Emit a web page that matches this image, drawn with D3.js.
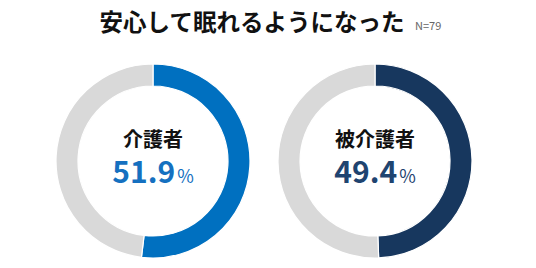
<!DOCTYPE html>
<html><head><meta charset="utf-8">
<script src="https://cdn.jsdelivr.net/npm/d3@7"></script>
<style>html,body{margin:0;padding:0;background:#fff}</style>
</head><body><svg id="c" width="536" height="268"></svg>
<script>
const title = "安心して眠れるようになった";
const nLabel = "N=79";
const groups = ["介護者", "被介護者"];
const values = [51.9, 49.4];
const colors = ["#0070C0", "#17375E"];
const textColors = ["#1570C0", "#1F4470"];
const rest = "#D9D9D9";

const svg = d3.select("#c");
const font = "'Noto Sans CJK JP','Noto Sans',sans-serif";

svg.append("text").attr("x", 252).attr("y", 31).attr("text-anchor", "middle")
  .attr("font-family", font).attr("font-weight", 700).attr("font-size", 23.5)
  .attr("fill", "#111").text(title);
svg.append("text").attr("x", 415).attr("y", 30)
  .attr("font-family", font).attr("font-size", 11).attr("fill", "#666").text(nLabel);

const cx = d3.scalePoint().domain(groups).range([153, 375]);
const outerR = 97, innerR = 75;
const pie = d3.pie().sort(null).value(d => d);
const arc = d3.arc().innerRadius(innerR).outerRadius(outerR);

groups.forEach((g, i) => {
  const gg = svg.append("g").attr("transform", `translate(${cx(g)},161)`);
  const arcs = pie([values[i], 100 - values[i]]);
  gg.selectAll("path").data(arcs).join("path")
    .attr("d", arc)
    .attr("fill", (d, j) => j === 0 ? colors[i] : rest)
    .attr("stroke", "#fff").attr("stroke-width", 1.2);
  gg.append("text").attr("y", -14).attr("text-anchor", "middle")
    .attr("font-family", font).attr("font-weight", 700).attr("font-size", 20)
    .attr("fill", "#111").text(g);
  const t = gg.append("text").attr("y", 22).attr("text-anchor", "middle")
    .attr("font-family", font).attr("fill", textColors[i]);
  t.append("tspan").attr("font-size", 30).attr("font-weight", 600).text(values[i].toFixed(1));
  t.append("tspan").attr("font-size", 18).attr("font-weight", 400).attr("dx", 2).text("%");
});
</script></body></html>
